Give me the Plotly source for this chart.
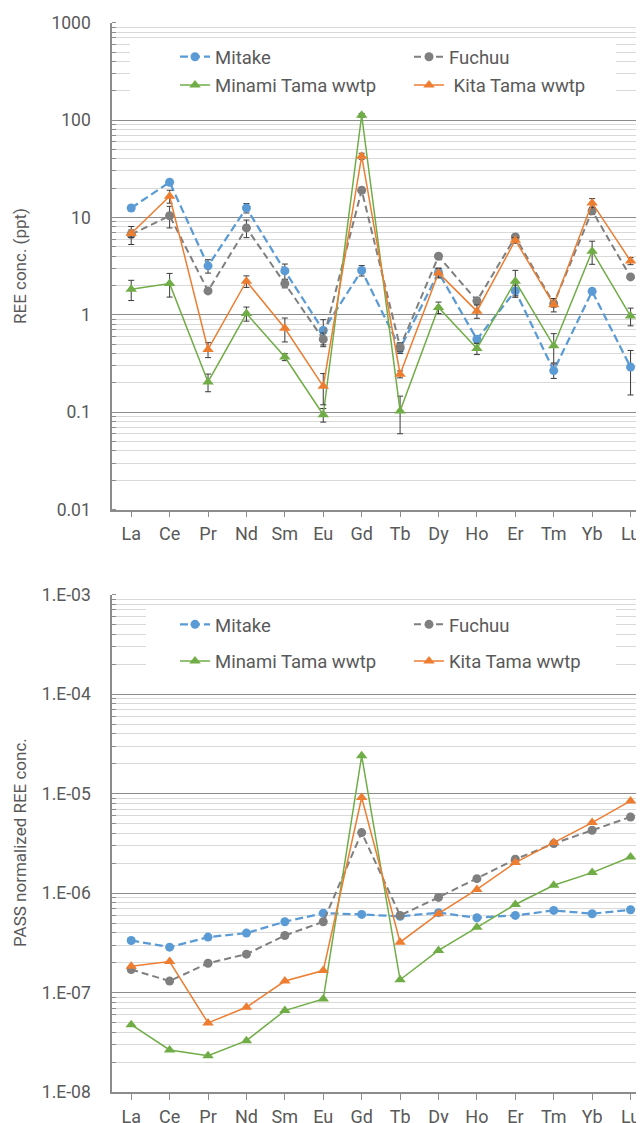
import plotly.graph_objects as go

# ---------------- data ----------------
elements = ["La", "Ce", "Pr", "Nd", "Sm", "Eu", "Gd", "Tb", "Dy", "Ho", "Er", "Tm", "Yb", "Lu"]

# REE concentrations (ppt)
mitake_conc = [12.5, 23.0, 3.18, 12.5, 2.82, 0.69, 2.85, 0.45, 2.72, 0.56, 1.76, 0.267, 1.74, 0.29]
fuchuu_conc = [6.67, 10.4, 1.76, 7.8, 2.09, 0.56, 19.0, 0.467, 3.99, 1.39, 6.3, 1.30, 11.7, 2.45]
minami_conc = [1.83, 2.09, 0.204, 1.03, 0.368, 0.094, 112.0, 0.103, 1.19, 0.45, 2.21, 0.48, 4.5, 0.97]
kita_conc = [6.83, 16.5, 0.44, 2.21, 0.726, 0.184, 42.6, 0.245, 2.69, 1.09, 5.83, 1.27, 14.1, 3.57]

# error bars (ppt, +/-)
mitake_err = [0.6, 1.2, 0.5, 1.4, 0.5, 0.2, 0.35, 0.05, 0.3, 0.05, 0.25, 0.045, 0.1, 0.14]
fuchuu_err = [1.4, 2.6, 0.1, 1.6, 0.2, 0.09, 1.0, 0.05, 0.2, 0.1, 0.4, 0.1, 1.0, 0.1]
minami_err = [0.43, 0.57, 0.042, 0.17, 0.03, 0.015, 5.0, 0.043, 0.16, 0.06, 0.65, 0.16, 1.2, 0.2]
kita_err = [0.6, 2.5, 0.077, 0.3, 0.2, 0.065, 3.0, 0.02, 0.3, 0.17, 0.4, 0.2, 1.5, 0.3]

# PAAS normalized concentrations
mitake_norm = [3.35e-7, 2.87e-7, 3.62e-7, 3.97e-7, 5.17e-7, 6.3e-7, 6.12e-7, 5.85e-7, 6.37e-7, 5.66e-7, 5.98e-7, 6.71e-7, 6.22e-7, 6.82e-7]
fuchuu_norm = [1.71e-7, 1.31e-7, 1.98e-7, 2.44e-7, 3.76e-7, 5.16e-7, 4.06e-6, 5.98e-7, 9.07e-7, 1.40e-6, 2.19e-6, 3.15e-6, 4.29e-6, 5.83e-6]
minami_norm = [4.78e-8, 2.66e-8, 2.33e-8, 3.3e-8, 6.62e-8, 8.67e-8, 2.4e-5, 1.35e-7, 2.66e-7, 4.56e-7, 7.7e-7, 1.2e-6, 1.61e-6, 2.31e-6]
kita_norm = [1.85e-7, 2.06e-7, 4.98e-8, 7.14e-8, 1.31e-7, 1.67e-7, 9.14e-6, 3.22e-7, 6.22e-7, 1.09e-6, 2.03e-6, 3.22e-6, 5.12e-6, 8.45e-6]

top_tickvals = [0.01, 0.1, 1, 10, 100, 1000]
top_ticktext = ["0.01", "0.1", "1", "10", "100", "1000"]
bot_tickvals = [1e-8, 1e-7, 1e-6, 1e-5, 1e-4, 1e-3]
bot_ticktext = ["1.E-08", "1.E-07", "1.E-06", "1.E-05", "1.E-04", "1.E-03"]

names_top = ["Mitake", "Fuchuu", "Minami Tama wwtp", "\u00a0Kita Tama wwtp"]
names_bot = ["Mitake", "Fuchuu", "Minami Tama wwtp", "Kita Tama wwtp"]

# ---------------- styling ----------------
OFF = 8                      # page body margin of the html page
W, H = 644 - OFF, 1123 - OFF
ML = 112 - OFF
PW = W - ML
FONT = "Roboto"
TXT = "#595959"
BLUE, GRAY, GREEN, ORANGE = "#5B9BD5", "#7F7F7F", "#70AD47", "#ED7D31"
ERRC = "#3a3a3a"
AXC = "#8c8c8c"

def px_x(p):
    """screen pixel x -> paper x"""
    return (p - OFF - ML) / PW

def px_y(p):
    """screen pixel y -> paper y"""
    return 1 - (p - OFF) / H

styles = [
    dict(color=BLUE, dash="8px,4px", width=2.25, symbol="circle", size=9),
    dict(color=GRAY, dash="7px,4px", width=2.0, symbol="circle", size=9),
    dict(color=GREEN, dash="solid", width=1.5, symbol="triangle-up", size=10),
    dict(color=ORANGE, dash="solid", width=1.5, symbol="triangle-up", size=10),
]

# legend item anchor positions (screen pixels)
col_x = [175, 409, 175, 409]
top_rows = [38.2, 38.2, 66.5, 66.5]
bot_rows = [605.8, 605.8, 642.5, 642.5]

fig = go.Figure()

top_series = [mitake_conc, fuchuu_conc, minami_conc, kita_conc]
top_errs = [mitake_err, fuchuu_err, minami_err, kita_err]
for k, (name, ys, err, st) in enumerate(zip(names_top, top_series, top_errs, styles)):
    fig.add_trace(go.Scatter(
        x=elements, y=ys, name=name, mode="lines+markers",
        line=dict(color=st["color"], dash=st["dash"], width=st["width"]),
        marker=dict(color=st["color"], symbol=st["symbol"], size=st["size"]),
        error_y=dict(type="data", array=err, color=ERRC, thickness=1, width=3),
        xaxis="x", yaxis="y", legend="legend" if k == 0 else f"legend{k + 1}",
    ))

bot_series = [mitake_norm, fuchuu_norm, minami_norm, kita_norm]
for k, (name, ys, st) in enumerate(zip(names_bot, bot_series, styles)):
    fig.add_trace(go.Scatter(
        x=elements, y=ys, name=name, mode="lines+markers",
        line=dict(color=st["color"], dash=st["dash"], width=st["width"]),
        marker=dict(color=st["color"], symbol=st["symbol"], size=st["size"]),
        xaxis="x2", yaxis="y2", legend=f"legend{k + 5}",
    ))

top_dom = [px_y(509.5), px_y(22.7)]
bot_dom = [px_y(1092.3), px_y(594.5)]

xcommon = dict(
    type="category", range=[-0.5, 13.35], showline=True, linecolor=AXC, linewidth=1.5,
    ticks="outside", ticklen=6, tickcolor=AXC, tickwidth=1.2, showgrid=False,
    tickfont=dict(family=FONT, size=18, color=TXT), zeroline=False, ticklabelstandoff=1,
    categoryorder="array", categoryarray=elements, automargin=False,
)
ycommon = dict(
    type="log", showline=True, linecolor=AXC, linewidth=1.5,
    ticks="", showgrid=True, gridcolor=AXC, gridwidth=1.3,
    tickfont=dict(family=FONT, size=17.5, color=TXT), ticklabelstandoff=16,
    minor=dict(dtick="D1", showgrid=True, gridcolor="#d9d9d9", gridwidth=1,
               ticks="inside", ticklen=4, tickcolor=AXC),
    zeroline=False, automargin=False,
)

fig.update_layout(
    width=W, height=H, margin=dict(l=ML, r=0, t=0, b=0, autoexpand=False),
    paper_bgcolor="white", plot_bgcolor="white",
    font=dict(family=FONT, color=TXT),
    xaxis=dict(domain=[0, 1], anchor="y", **xcommon),
    xaxis2=dict(domain=[0, 1], anchor="y2", **xcommon),
    yaxis=dict(domain=top_dom, anchor="x", range=[-2, 3], dtick=1,
               tickvals=top_tickvals, ticktext=top_ticktext, **ycommon),
    yaxis2=dict(domain=bot_dom, anchor="x2", range=[-8, -3], dtick=1,
                tickvals=bot_tickvals, ticktext=bot_ticktext, **ycommon),
    showlegend=True,
)

def legend_at(px_left, px_top):
    return dict(
        orientation="h", x=px_x(px_left), y=px_y(px_top), xanchor="left", yanchor="top",
        xref="paper", yref="paper", bgcolor="rgba(0,0,0,0)", borderwidth=0,
        font=dict(family=FONT, size=18.5, color=TXT),
    )

legends = {}
for k in range(4):
    key = "legend" if k == 0 else f"legend{k + 1}"
    legends[key] = legend_at(col_x[k], top_rows[k])
    legends[f"legend{k + 5}"] = legend_at(col_x[k], bot_rows[k])
fig.update_layout(**legends)

# white background boxes behind legends (hide gridlines, like the original)
fig.add_shape(type="rect", xref="paper", yref="paper", layer="above",
              x0=px_x(130), x1=px_x(616), y0=px_y(95), y1=px_y(40),
              fillcolor="white", line=dict(width=0))
fig.add_shape(type="rect", xref="paper", yref="paper", layer="above",
              x0=px_x(146), x1=px_x(616), y0=px_y(680), y1=px_y(606),
              fillcolor="white", line=dict(width=0))

# y-axis titles
fig.add_annotation(text="REE conc. (ppt)", xref="paper", yref="paper",
                   x=px_x(20), y=px_y(266), textangle=-90, showarrow=False,
                   xanchor="center", yanchor="middle",
                   font=dict(family=FONT, size=17, color=TXT))
fig.add_annotation(text="PASS normalized REE conc.", xref="paper", yref="paper",
                   x=px_x(20), y=px_y(843), textangle=-90, showarrow=False,
                   xanchor="center", yanchor="middle",
                   font=dict(family=FONT, size=17, color=TXT))

fig.write_html("out.html")
